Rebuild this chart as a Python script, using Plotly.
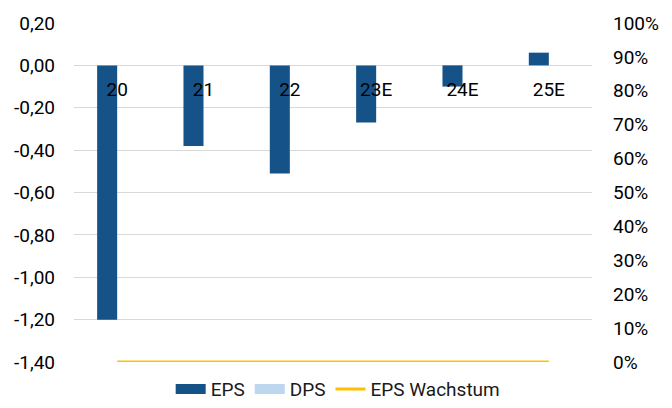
import plotly.graph_objects as go

categories = ["20", "21", "22", "23E", "24E", "25E"]
eps = [-1.20, -0.38, -0.51, -0.27, -0.10, 0.06]
dps = [0, 0, 0, 0, 0, 0]
eps_growth = [0, 0, 0, 0, 0, 0]

left_ticks = [-1.4, -1.2, -1.0, -0.8, -0.6, -0.4, -0.2, 0.0, 0.2]
left_ticktext = ["-1,40", "-1,20", "-1,00", "-0,80", "-0,60", "-0,40", "-0,20", "0,00", "0,20"]
right_ticks = [i / 10 for i in range(11)]
right_ticktext = [f"{i*10}%" for i in range(11)]

FONT = "Roboto"
FS = 19
EPS_COLOR = "#155288"
DPS_COLOR = "#BDD7EE"
LINE_COLOR = "#FFC000"

fig = go.Figure()
fig.add_trace(go.Bar(x=categories, y=eps, name="EPS", legendgroup="eps", showlegend=False,
                     marker=dict(color=EPS_COLOR, line=dict(width=0))))
fig.add_trace(go.Bar(x=categories, y=dps, name="DPS", legendgroup="dps", showlegend=False,
                     marker=dict(color=DPS_COLOR, line=dict(width=0))))
fig.add_trace(go.Scatter(x=categories, y=eps_growth, name="EPS Wachstum", yaxis="y2",
                         mode="lines", legendgroup="growth", showlegend=False,
                         line=dict(color=LINE_COLOR, width=3)))
# legend entries styled like the reference (wide rectangles / line)
fig.add_trace(go.Scatter(x=[None], y=[None], name="EPS", legendgroup="eps", mode="lines",
                         line=dict(color=EPS_COLOR, width=11)))
fig.add_trace(go.Scatter(x=[None], y=[None], name="DPS", legendgroup="dps", mode="lines",
                         line=dict(color=DPS_COLOR, width=11)))
fig.add_trace(go.Scatter(x=[None], y=[None], name="EPS Wachstum", legendgroup="growth",
                         mode="lines", line=dict(color=LINE_COLOR, width=3)))

zero_pos = (0 - (-1.4)) / (0.2 - (-1.4))

fig.update_layout(
    width=672, height=408,
    margin=dict(l=66, r=88, t=15, b=54, autoexpand=False),
    paper_bgcolor="white", plot_bgcolor="white",
    font=dict(family=FONT, size=FS, color="#000000"),
    barmode="group", bargap=0.536, bargroupgap=0,
    showlegend=True,
    legend=dict(orientation="h", x=0.51, xanchor="center", y=-0.08, yanchor="middle",
                font=dict(family=FONT, size=FS, color="#1a1a1a"), itemwidth=30,
                tracegroupgap=0, bgcolor="rgba(0,0,0,0)"),
    xaxis=dict(type="category", anchor="free", position=zero_pos, showline=False,
               showgrid=False, zeroline=False, ticks="outside", ticklen=7, automargin=False,
               tickcolor="rgba(0,0,0,0)", tickfont=dict(family=FONT, size=FS, color="#000000")),
    yaxis=dict(range=[-1.4, 0.2], tickvals=left_ticks, ticktext=left_ticktext,
               showgrid=True, gridcolor="#D9D9D9", gridwidth=1, zeroline=False,
               showline=False, ticks="", ticklabelstandoff=18, automargin=False,
               tickfont=dict(family=FONT, size=FS, color="#000000")),
    yaxis2=dict(range=[0, 1], overlaying="y", side="right", tickvals=right_ticks,
                ticktext=right_ticktext, showgrid=False, zeroline=False, showline=False,
                ticks="", ticklabelstandoff=20, automargin=False,
                tickfont=dict(family=FONT, size=FS, color="#000000")),
)

fig.write_html("out.html")
